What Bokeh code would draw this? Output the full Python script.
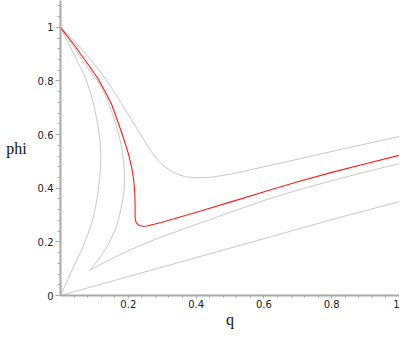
from bokeh.plotting import figure
from bokeh.models import Range1d, FixedTicker, CustomJSTickFormatter
from bokeh.embed import file_html
from bokeh.resources import INLINE

# ---- data ----
outer_q = [0, 0.03, 0.06, 0.09, 0.12, 0.15, 0.18, 0.212, 0.25, 0.27, 0.29, 0.31, 0.331, 0.35, 0.368, 0.40, 0.444, 0.50, 0.538, 0.60, 0.70, 0.80, 0.90, 1.0]
outer_phi = [1, 0.962, 0.922, 0.878, 0.830, 0.776, 0.716, 0.650, 0.572, 0.532, 0.500, 0.478, 0.461, 0.450, 0.443, 0.439, 0.441, 0.452, 0.462, 0.480, 0.508, 0.537, 0.565, 0.593]

red_q = [0, 0.040, 0.080, 0.110, 0.137, 0.151, 0.170, 0.185, 0.200, 0.210, 0.216, 0.219, 0.220, 0.220, 0.223, 0.231, 0.243, 0.255, 0.297, 0.368, 0.416, 0.510, 0.623, 0.70, 0.80, 0.90, 1.0]
red_phi = [1, 0.935, 0.864, 0.810, 0.748, 0.712, 0.645, 0.590, 0.530, 0.478, 0.430, 0.385, 0.340, 0.291, 0.272, 0.262, 0.258, 0.259, 0.272, 0.298, 0.316, 0.352, 0.395, 0.424, 0.459, 0.491, 0.523]

cusp_q = [0, 0.035, 0.071, 0.110, 0.135, 0.150, 0.163, 0.174, 0.182, 0.187, 0.189, 0.188, 0.184, 0.175, 0.165, 0.142, 0.115, 0.088, 0.130, 0.175, 0.227, 0.297, 0.416, 0.50, 0.623, 0.70, 0.80, 0.90, 1.0]
cusp_phi = [1, 0.935, 0.864, 0.800, 0.740, 0.690, 0.640, 0.590, 0.540, 0.490, 0.443, 0.400, 0.361, 0.303, 0.256, 0.192, 0.140, 0.095, 0.124, 0.152, 0.182, 0.218, 0.272, 0.310, 0.364, 0.393, 0.428, 0.461, 0.492]

inner_q = [0, 0.020, 0.042, 0.060, 0.075, 0.090, 0.102, 0.111, 0.117, 0.119, 0.118, 0.114, 0.109, 0.102, 0.092, 0.080, 0.065, 0.042, 0.020, 0]
inner_phi = [1, 0.948, 0.893, 0.848, 0.808, 0.750, 0.690, 0.630, 0.570, 0.520, 0.470, 0.420, 0.370, 0.320, 0.270, 0.225, 0.178, 0.116, 0.055, 0]

line_q = [0, 0.227, 0.623, 0.826, 1.0]
line_phi = [0, 0.080, 0.220, 0.292, 0.350]

x_ticks = [0.2, 0.4, 0.6, 0.8, 1.0]
y_ticks = [0, 0.2, 0.4, 0.6, 0.8, 1.0]

GRAY = "#c8c8c8"
RED = "#ff1a1a"

p = figure(width=399, height=330, output_backend="svg", toolbar_location=None,
           x_range=Range1d(0, 1), y_range=Range1d(0, 1.1),
           min_border_left=60, min_border_right=0, min_border_top=0, min_border_bottom=32,
           background_fill_color="white", border_fill_color="white")
p.outline_line_color = None
p.xgrid.visible = False
p.ygrid.visible = False

for xs, ys in [(outer_q, outer_phi), (cusp_q, cusp_phi), (inner_q, inner_phi), (line_q, line_phi)]:
    p.line(xs, ys, line_color=GRAY, line_width=1)
p.line(red_q, red_phi, line_color=RED, line_width=1.1)

fmt = CustomJSTickFormatter(code="return tick.toFixed(1).replace(/\\.0$/, '');")

xa = p.xaxis[0]
xa.ticker = FixedTicker(ticks=x_ticks, minor_ticks=[round(0.04 * k, 2) for k in range(1, 26)])
xa.formatter = fmt
ya = p.yaxis[0]
ya.ticker = FixedTicker(ticks=y_ticks, minor_ticks=[round(0.04 * k, 2) for k in range(0, 28)])
ya.formatter = fmt

for ax in (xa, ya):
    ax.axis_line_color = "#a8a8a8"
    ax.axis_line_width = 2
    ax.major_tick_line_color = "#a8a8a8"
    ax.minor_tick_line_color = "#a8a8a8"
    ax.major_tick_in = 0
    ax.minor_tick_in = 0
    ax.major_label_text_font = "DejaVu Sans"
    ax.major_label_text_font_size = "10px"
    ax.major_label_text_color = "#222222"
    ax.axis_label_text_font = "Liberation Serif"
    ax.axis_label_text_font_style = "normal"
    ax.axis_label_text_font_size = "16px"
    ax.axis_label_text_color = "#111111"

xa.major_tick_out = 3
xa.minor_tick_out = 2
xa.major_label_standoff = 1
xa.axis_label = "q"
xa.axis_label_standoff = 0

ya.major_tick_out = 5
ya.minor_tick_out = 3
ya.major_label_standoff = 2
ya.axis_label = "phi"
ya.axis_label_orientation = "horizontal"
ya.axis_label_standoff = 8

open("out.html", "w").write(file_html(p, INLINE))
